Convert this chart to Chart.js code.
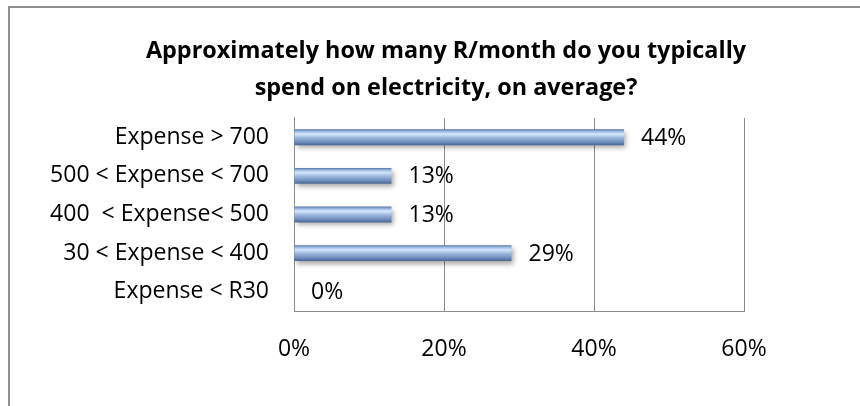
<!DOCTYPE html>
<html>
<head>
<meta charset="utf-8">
<script src="https://cdn.jsdelivr.net/npm/chart.js@4.4.1/dist/chart.umd.min.js"></script>
<style>
  html, body { margin: 0; padding: 0; background: #fff; }
  canvas { display: block; }
</style>
</head>
<body>
<canvas id="expense-chart" width="860" height="406"></canvas>
<script>
const categories = ['Expense > 700', '500 < Expense < 700', '400  < Expense< 500', '30 < Expense < 400', 'Expense < R30'];
const shares = [44, 13, 13, 29, 0];
const axisMax = 60;
const axisStep = 20;
const titleLines = ['Approximately how many R/month do you typically', 'spend on electricity, on average?'];

const FONT = '"Open Sans", sans-serif';
const LABEL_SIZE = 23;
const BAR_PCT = 0.41;

// frame lines round the chart (top and left edge only)
const framePlugin = {
    id: 'frame',
    beforeDraw(chart) {
        const ctx = chart.ctx;
        ctx.save();
        ctx.strokeStyle = '#8f8f8f';
        ctx.lineWidth = 2;
        ctx.beginPath();
        ctx.moveTo(9, 406);
        ctx.lineTo(9, 7);
        ctx.lineTo(860, 7);
        ctx.stroke();
        ctx.restore();
    }
};

// title is centred over the whole frame, not just the padded box
const titleShift = {
    id: 'titleShift',
    afterLayout(chart) {
        const t = chart.titleBlock;
        t.left = 32;
        t.right = 860;
        t.width = t.right - t.left;
    }
};

// glossy vertical gradient for a bar, built from its row on the category scale
function barGradient(context) {
    const chart = context.chart;
    const y = chart.scales.y;
    if (!y || !chart.chartArea) return '#8fa9d1';
    const band = y.height / chart.data.labels.length;
    const h = band * BAR_PCT;
    const top = y.getPixelForValue(context.dataIndex) - h / 2;
    const g = chart.ctx.createLinearGradient(0, top, 0, top + h);
    g.addColorStop(0, '#5676a8');
    g.addColorStop(0.15, '#a3bfe6');
    g.addColorStop(0.3, '#d4e7fb');
    g.addColorStop(0.5, '#a2bde2');
    g.addColorStop(0.8, '#6f8dbd');
    g.addColorStop(1, '#496694');
    return g;
}

// soft drop shadow under the bars
const shadowPlugin = {
    id: 'barShadow',
    beforeDatasetsDraw(chart) {
        const ctx = chart.ctx;
        ctx.save();
        ctx.shadowColor = 'rgba(0,0,0,0.35)';
        ctx.shadowBlur = 5;
        ctx.shadowOffsetX = 2;
        ctx.shadowOffsetY = 3;
    },
    afterDatasetsDraw(chart) {
        chart.ctx.restore();
    }
};

// percentage label to the right of each bar
const valueLabels = {
    id: 'valueLabels',
    afterDatasetsDraw(chart) {
        const ctx = chart.ctx;
        const data = chart.data.datasets[0].data;
        ctx.save();
        ctx.font = LABEL_SIZE + 'px ' + FONT;
        ctx.fillStyle = '#000';
        ctx.textAlign = 'left';
        ctx.textBaseline = 'middle';
        chart.getDatasetMeta(0).data.forEach((bar, i) => {
            ctx.fillText(data[i] + '%', bar.x + 17, bar.y + 1);
        });
        ctx.restore();
    }
};

new Chart(document.querySelector('#expense-chart').getContext('2d'), {
    type: 'bar',
    data: {
        labels: categories,
        datasets: [{
            data: shares,
            backgroundColor: barGradient,
            borderWidth: 0,
            barPercentage: BAR_PCT,
            categoryPercentage: 1
        }]
    },
    options: {
        indexAxis: 'y',
        responsive: false,
        animation: false,
        layout: { padding: { left: 30, right: 116, top: 12, bottom: 0 } },
        plugins: {
            legend: { display: false },
            tooltip: { enabled: false },
            title: {
                display: true,
                text: titleLines,
                color: '#000',
                font: { family: FONT, size: 23.4, weight: 'bold', lineHeight: 1.58 },
                padding: { top: 21, bottom: 11 }
            }
        },
        scales: {
            x: {
                min: 0,
                max: axisMax,
                ticks: {
                    stepSize: axisStep,
                    padding: 25,
                    color: '#000',
                    font: { family: FONT, size: LABEL_SIZE },
                    callback: v => v + '%'
                },
                grid: { color: '#8c8c8c', drawTicks: false },
                border: { color: '#8c8c8c' },
                afterFit(scale) { scale.height = 95; }
            },
            y: {
                ticks: {
                    padding: 25,
                    color: '#000',
                    font: { family: FONT, size: LABEL_SIZE }
                },
                grid: { display: false, drawTicks: false },
                border: { color: '#8c8c8c' },
                afterFit(scale) { scale.width = 264; }
            }
        }
    },
    plugins: [framePlugin, titleShift, shadowPlugin, valueLabels]
});
</script>
</body>
</html>
